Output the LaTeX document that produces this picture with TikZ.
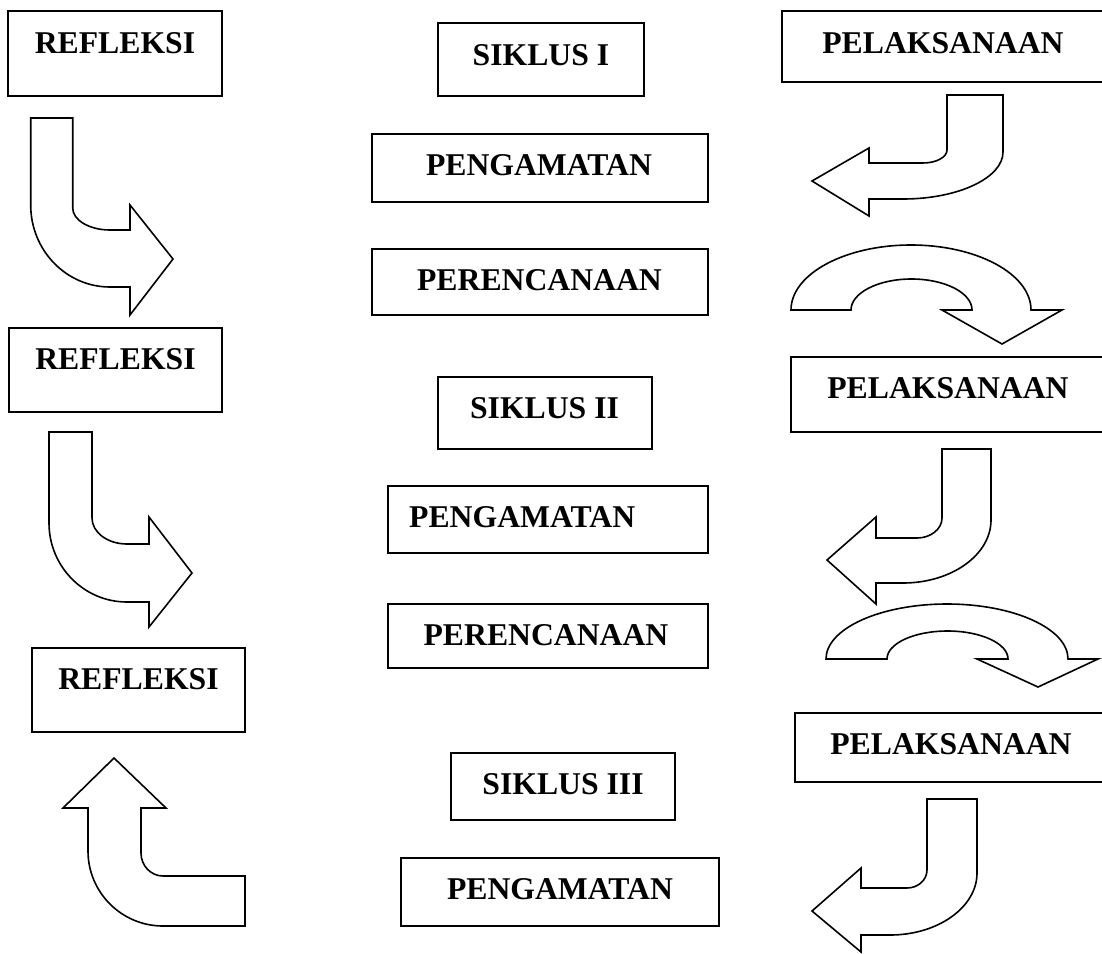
\documentclass[tikz,border=0pt]{standalone}
\usepackage{fontspec}
\setmainfont{Liberation Serif}
\tikzset{
  box/.style={draw, line width=2pt, inner sep=0pt, outer sep=0pt},
  lbl/.style={inner sep=0pt, anchor=base, font=\bfseries\fontsize{31.7}{38}\selectfont},
  lblw/.style={lbl, anchor=base west},
  blockarrow/.style={draw, line width=1.6pt, line join=miter, fill=white},
}
\begin{document}
\begin{tikzpicture}[x=1pt, y=-1pt]
\useasboundingbox (0,0) rectangle (1102,953);
\clip (0,0) rectangle (1102,953);

% ---------- left column: REFLEKSI ----------
\node[box, minimum width=214pt, minimum height=85pt] (r1) at (115,53.5) {};
\node[lbl] (r1t) at (115,53) {REFLEKSI};
\node[box, minimum width=213pt, minimum height=84pt] (r2) at (115.5,370) {};
\node[lbl] (r2t) at (115.5,369) {REFLEKSI};
\node[box, minimum width=213pt, minimum height=84pt] (r3) at (138.5,690) {};
\node[lbl] (r3t) at (138.5,689) {REFLEKSI};

% ---------- middle column ----------
\node[box, minimum width=206pt, minimum height=73pt] (s1) at (541,59.5) {};
\node[lbl] (s1t) at (541,65) {SIKLUS I};
\node[box, minimum width=336pt, minimum height=68pt] (g1) at (540,168) {};
\node[lbl] (g1t) at (539,175) {PENGAMATAN};
\node[box, minimum width=336pt, minimum height=66pt] (e1) at (540,282) {};
\node[lbl] (e1t) at (539.5,290) {PERENCANAAN};

\node[box, minimum width=214pt, minimum height=72pt] (s2) at (545,413) {};
\node[lbl] (s2t) at (544.5,418) {SIKLUS II};
\node[box, minimum width=320pt, minimum height=67pt] (g2) at (548,519.5) {};
\node[lblw] (g2t) at (409,527) {PENGAMATAN};
\node[box, minimum width=320pt, minimum height=64pt] (e2) at (548,636) {};
\node[lbl] (e2t) at (546,645) {PERENCANAAN};

\node[box, minimum width=224pt, minimum height=67pt] (s3) at (563,786.5) {};
\node[lbl] (s3t) at (563,794) {SIKLUS III};
\node[box, minimum width=318pt, minimum height=68pt] (g3) at (560,892) {};
\node[lbl] (g3t) at (560,899) {PENGAMATAN};

% ---------- right column: PELAKSANAAN ----------
\node[box, minimum width=322pt, minimum height=71pt] (p1) at (943,46.5) {};
\node[lbl] (p1t) at (943,53) {PELAKSANAAN};
\node[box, minimum width=314pt, minimum height=75pt] (p2) at (948,394.5) {};
\node[lbl] (p2t) at (948,398) {PELAKSANAAN};
\node[box, minimum width=312pt, minimum height=69pt] (p3) at (951,747.5) {};
\node[lbl] (p3t) at (951,754) {PELAKSANAAN};

% ---------- bent block arrows, left column (down, then right) ----------
\draw[blockarrow] (30.7,118) -- (72.7,118) -- (72.7,208)
  .. controls (72.7,220.1) and (89.4,230) .. (110,230)
  -- (130,230) -- (130,205) -- (173,259) -- (130,315) -- (130,287) -- (110,287)
  .. controls (66.2,287) and (30.7,250.3) .. (30.7,205) -- cycle;

\draw[blockarrow] (49,432) -- (92,432) -- (92,518)
  .. controls (92,532.4) and (107.7,544) .. (127,544)
  -- (149,544) -- (149,517) -- (192,573) -- (149,627) -- (149,602) -- (127,602)
  .. controls (83.9,602) and (49,566.6) .. (49,523) -- cycle;

% bent block arrow pointing up to the last REFLEKSI
\draw[blockarrow] (114,758) -- (166,808) -- (141,808) -- (141,853)
  .. controls (141,865.7) and (150.9,876) .. (163,876)
  -- (245,876) -- (245,926) -- (163,926)
  .. controls (121.6,926) and (88,892.4) .. (88,851)
  -- (88,808) -- (63,808) -- cycle;

% ---------- bent block arrows, right column (down, then left) ----------
\draw[blockarrow] (947,95) -- (1003,95) -- (1003,152)
  .. controls (1003,177.9) and (958.2,199) .. (903,199)
  -- (869,199) -- (869,216) -- (812,181) -- (869,148) -- (869,163) -- (923,163)
  .. controls (936.2,163) and (947,157.2) .. (947,150) -- cycle;

\draw[blockarrow] (942,449) -- (991,449) -- (991,520)
  .. controls (991,554.8) and (951.6,583) .. (903,583)
  -- (876,583) -- (876,604) -- (827,560) -- (876,517) -- (876,538) -- (917,538)
  .. controls (930.8,538) and (942,529) .. (942,518) -- cycle;

\draw[blockarrow] (927,799) -- (977,799) -- (977,873)
  .. controls (977,907.2) and (938,935) .. (890,935)
  -- (861,935) -- (861,952) -- (812,911) -- (861,868) -- (861,888) -- (907,888)
  .. controls (918,888) and (927,879.9) .. (927,870) -- cycle;

% ---------- U-turn block arrows ----------
\draw[blockarrow] (791,310)
  .. controls (791,274.1) and (844.8,245) .. (911,245)
  .. controls (977.2,245) and (1031,274.1) .. (1031,310)
  -- (1062,310) -- (1002,344) -- (942,310) -- (972,310)
  .. controls (972,292.9) and (944.9,279) .. (911.5,279)
  .. controls (878.1,279) and (851,292.9) .. (851,310) -- cycle;

\draw[blockarrow] (826,659)
  .. controls (826,628.6) and (880.2,604) .. (947,604)
  .. controls (1013.8,604) and (1068,628.6) .. (1068,659)
  -- (1098,659) -- (1038,687) -- (977,659) -- (1008,659)
  .. controls (1008,643.5) and (980.9,631) .. (947.5,631)
  .. controls (914.1,631) and (887,643.5) .. (887,659) -- cycle;
\end{tikzpicture}
\end{document}
